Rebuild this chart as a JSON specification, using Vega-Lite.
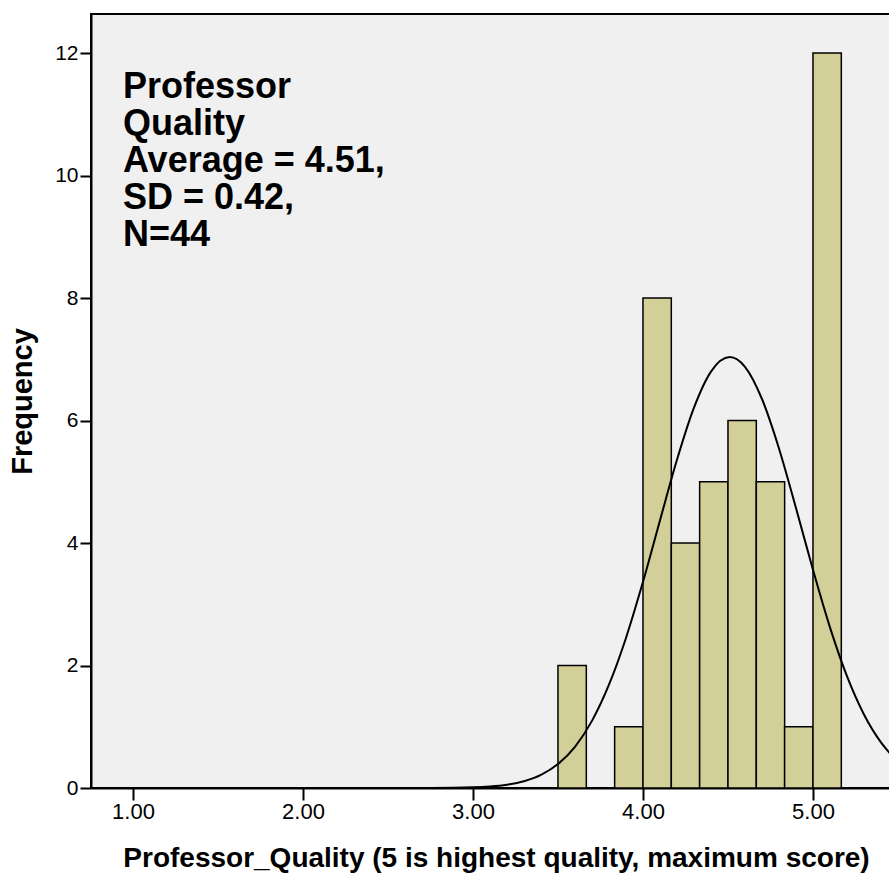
{
  "$schema": "https://vega.github.io/schema/vega-lite/v6.json",
  "width": 800,
  "height": 774,
  "autosize": {"type": "none"},
  "padding": {"left": 91, "top": 14, "right": 0, "bottom": 88},
  "background": "white",
  "config": {
    "font": "Liberation Sans",
    "view": {"fill": "#F0F0F0", "stroke": "black", "strokeWidth": 2}
  },
  "datasets": {
    "bars": [
      {"start": 3.5, "end": 3.6667, "count": 2},
      {"start": 3.8333, "end": 4.0, "count": 1},
      {"start": 4.0, "end": 4.1667, "count": 8},
      {"start": 4.1667, "end": 4.3333, "count": 4},
      {"start": 4.3333, "end": 4.5, "count": 5},
      {"start": 4.5, "end": 4.6667, "count": 6},
      {"start": 4.6667, "end": 4.8333, "count": 5},
      {"start": 4.8333, "end": 5.0, "count": 1},
      {"start": 5.0, "end": 5.1667, "count": 12}
    ],
    "curve": [
      {"x": 0.76, "y": 0},
      {"x": 1.5, "y": 0},
      {"x": 2.0, "y": 0},
      {"x": 2.5, "y": 0.00007},
      {"x": 2.75, "y": 0.00108},
      {"x": 3.0, "y": 0.011},
      {"x": 3.1, "y": 0.0252},
      {"x": 3.2, "y": 0.0544},
      {"x": 3.3, "y": 0.111},
      {"x": 3.4, "y": 0.214},
      {"x": 3.5, "y": 0.391},
      {"x": 3.6, "y": 0.673},
      {"x": 3.7, "y": 1.096},
      {"x": 3.8, "y": 1.686},
      {"x": 3.9, "y": 2.45},
      {"x": 4.0, "y": 3.366},
      {"x": 4.1, "y": 4.369},
      {"x": 4.2, "y": 5.358},
      {"x": 4.3, "y": 6.209},
      {"x": 4.4, "y": 6.798},
      {"x": 4.51, "y": 7.035},
      {"x": 4.6, "y": 6.876},
      {"x": 4.7, "y": 6.351},
      {"x": 4.8, "y": 5.544},
      {"x": 4.9, "y": 4.572},
      {"x": 5.0, "y": 3.562},
      {"x": 5.1, "y": 2.623},
      {"x": 5.2, "y": 1.825},
      {"x": 5.3, "y": 1.2},
      {"x": 5.4, "y": 0.745},
      {"x": 5.46, "y": 0.545}
    ],
    "note": [
      {"x": 0.941, "y": 11.27, "label": "Professor\nQuality\nAverage = 4.51,\nSD = 0.42,\nN=44"}
    ]
  },
  "layer": [
    {
      "data": {"name": "bars"},
      "mark": {"type": "rect", "fill": "#D3CF98", "stroke": "black", "strokeWidth": 1.5},
      "encoding": {
        "x": {
          "field": "start", "type": "quantitative",
          "scale": {"domain": [0.753, 5.459], "nice": false, "zero": false},
          "axis": {
            "values": [1, 2, 3, 4, 5], "format": ".2f", "grid": false,
            "title": "Professor_Quality (5 is highest quality, maximum score)",
            "titleFont": "Liberation Sans", "titleFontWeight": "bold", "titleFontSize": 28, "titleColor": "black",
            "titleX": 405, "titleY": 78, "titleAlign": "center", "titleBaseline": "alphabetic",
            "labelFontSize": 22, "labelColor": "black", "labelPadding": 1,
            "tickSize": 12, "tickColor": "black", "tickWidth": 2,
            "domainColor": "black", "domainWidth": 2
          }
        },
        "x2": {"field": "end"},
        "y": {
          "field": "count", "type": "quantitative",
          "scale": {"domain": [0, 12.637], "nice": false},
          "axis": {
            "values": [0, 2, 4, 6, 8, 10, 12], "format": "d", "grid": false,
            "title": "Frequency",
            "titleFont": "Liberation Sans", "titleFontWeight": "bold", "titleFontSize": 29, "titleColor": "black",
            "titleX": -69, "titleY": 387, "titleAngle": 270, "titleAlign": "center", "titleBaseline": "middle",
            "labelFontSize": 21, "labelColor": "black", "labelPadding": 2,
            "tickSize": 11, "tickColor": "black", "tickWidth": 2,
            "domainColor": "black", "domainWidth": 2
          }
        },
        "y2": {"datum": 0}
      }
    },
    {
      "data": {"name": "curve"},
      "mark": {"type": "line", "color": "black", "strokeWidth": 2, "interpolate": "monotone", "clip": true},
      "encoding": {
        "x": {"field": "x", "type": "quantitative"},
        "y": {"field": "y", "type": "quantitative"}
      }
    },
    {
      "data": {"name": "note"},
      "mark": {"type": "text", "align": "left", "baseline": "alphabetic", "lineBreak": "\n", "lineHeight": 37, "fontSize": 36, "fontWeight": "bold", "font": "Liberation Sans", "color": "black"},
      "encoding": {
        "x": {"field": "x", "type": "quantitative"},
        "y": {"field": "y", "type": "quantitative"},
        "text": {"field": "label"}
      }
    }
  ]
}
